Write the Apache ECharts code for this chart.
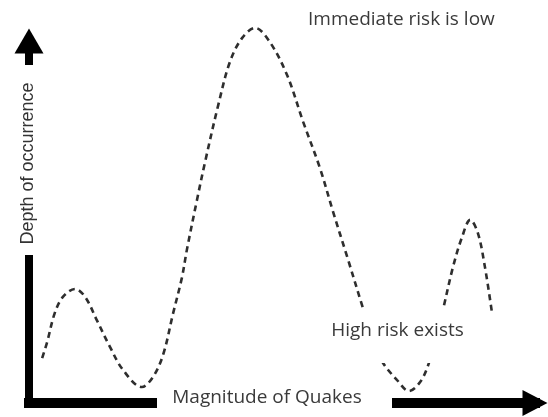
<!DOCTYPE html>
<html><head><meta charset="utf-8">
<script src="https://cdn.jsdelivr.net/npm/echarts@6/dist/echarts.min.js"></script>
<style>html,body{margin:0;padding:0;background:#fff}#c{width:548px;height:417px}</style>
</head><body><div id="c"></div>
<script>
// Curve (x: magnitude scale 0-100, y: depth scale 0-100)
const magnitude = [2.6,3.6,5.1,6.7,9.1,11.1,13.4,16.0,18.6,22.3,24.5,26.5,28.5,30.2,31.2,33.2,34.8,37.4,39.7,42.1,44.7,47.6,51.0,54.2,57.5,60.1,62.9,66.0,67.4,68.6,70.0,72.7,75.1,77.3,78.9,80.4,81.8,83.8,85.6,87.2,88.7,90.1,91.5];
const depth     = [12.4,16.9,24.9,29.3,31.5,29.3,22.9,15.5,9.1,4.4,7.2,13.3,24.9,34.5,42.3,56.1,66.6,82.3,94.2,100.8,103.6,99.7,90.6,77.6,64.9,52.8,40.3,26.2,20.2,15.2,11.0,6.4,3.3,5.8,10.5,18.0,25.7,37.6,45.9,50.6,47.0,37.6,24.9];
const xAxisTitle = 'Magnitude of Quakes';
const yAxisTitle = 'Depth of occurrence';
const noteTop = 'Immediate risk is low';
const noteMid = 'High risk exists';

const FONT = '"Open Sans", sans-serif';
const FONT_Y = '"Liberation Sans", Arial, sans-serif';
const TXT = '#3a3a3a';
const fs = 19;

const chart = echarts.init(document.getElementById('c'), null, {renderer:'canvas'});
const data = magnitude.map((m,i)=>[m, depth[i]]);

chart.setOption({
  animation:false,
  backgroundColor:'#fff',
  grid:{left:29, right:13, top:41, bottom:14},
  xAxis:{type:'value', min:0, max:100,
    axisLine:{show:true, onZero:false, symbol:['none','triangle'], symbolSize:[26,25],
      lineStyle:{color:'#000', width:10, cap:'square'}},
    axisTick:{show:false}, axisLabel:{show:false}, splitLine:{show:false}},
  yAxis:{type:'value', min:0, max:100,
    axisLine:{show:true, onZero:false, symbol:['none','triangle'], symbolSize:[29,25],
      lineStyle:{color:'#000', width:8, cap:'square'}},
    axisTick:{show:false}, axisLabel:{show:false}, splitLine:{show:false}},
  series:[{
    type:'line', data:data, smooth:0.35, clip:false, showSymbol:false, symbol:'none',
    lineStyle:{color:'#2e2e2e', width:2.6, type:[6,4.5]}
  }],
  graphic:[
    {type:'rect', z:100, shape:{x:322,y:309,width:148,height:54}, style:{fill:'#fff'}},
    {type:'rect', z:100, shape:{x:157,y:390,width:235,height:24}, style:{fill:'#fff'}},
    {type:'rect', z:100, shape:{x:16,y:65,width:26,height:190}, style:{fill:'#fff'}},
    {type:'text', z:101, x:308, y:20, style:{text:noteTop, font:fs+'px '+FONT, fill:TXT, textAlign:'left', textVerticalAlign:'middle'}},
    {type:'text', z:101, x:397.5, y:331, style:{text:noteMid, font:fs+'px '+FONT, fill:TXT, textAlign:'center', textVerticalAlign:'middle'}},
    {type:'text', z:101, x:267, y:398, style:{text:xAxisTitle, font:fs+'px '+FONT, fill:TXT, textAlign:'center', textVerticalAlign:'middle'}},
    {type:'text', z:101, x:28.5, y:163.5, rotation:Math.PI/2, style:{text:yAxisTitle, font:'18px '+FONT_Y, fill:'#333', textAlign:'center', textVerticalAlign:'middle'}}
  ]
});
</script></body></html>
